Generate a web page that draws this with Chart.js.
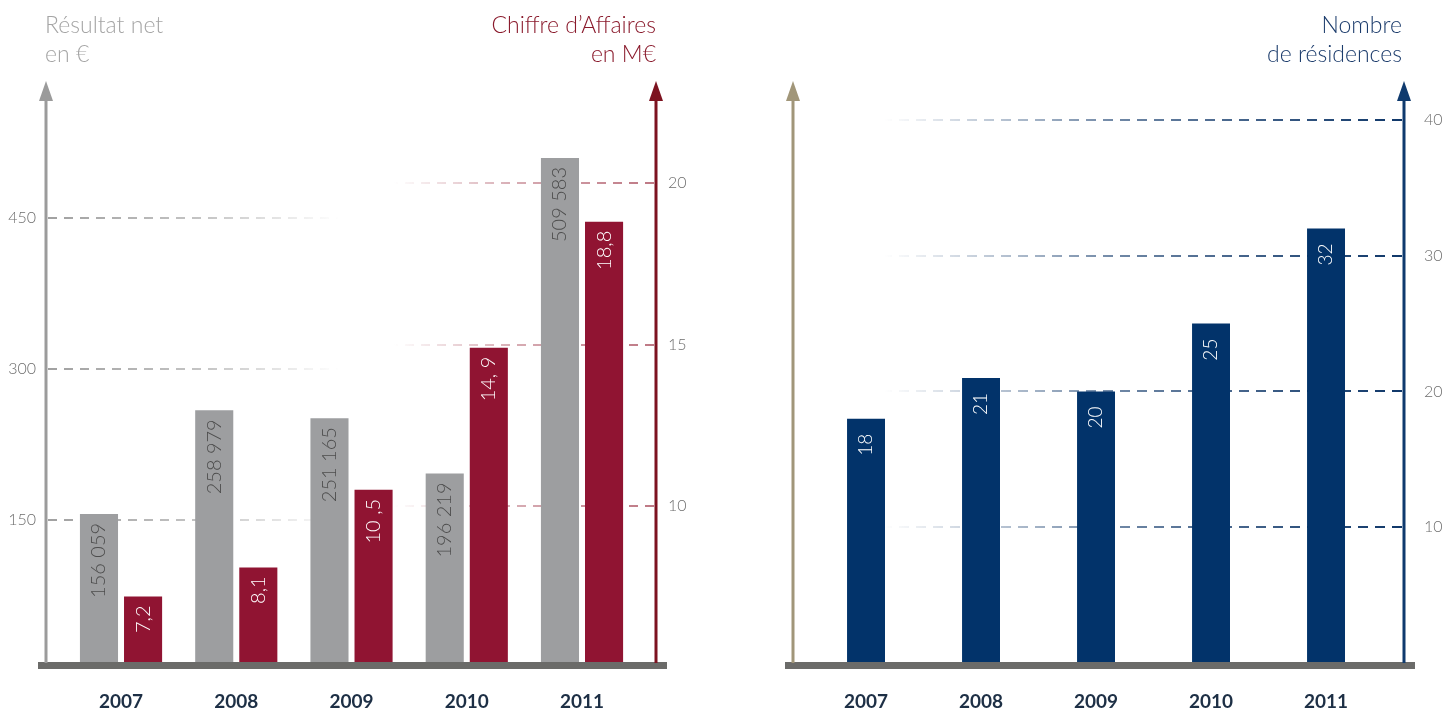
<!DOCTYPE html>
<html lang="fr">
<head>
<meta charset="utf-8">
<script src="https://cdn.jsdelivr.net/npm/chart.js@4.4.0/dist/chart.umd.min.js"></script>
<style>
  html, body { margin: 0; padding: 0; background: #fff; }
  body { width: 1443px; height: 711px; position: relative; overflow: hidden; font-family: Lato, "Open Sans", sans-serif; }
  #gauche { position: absolute; left: 0; top: 0; width: 720px; height: 711px; }
  #droite { position: absolute; left: 720px; top: 0; width: 723px; height: 711px; }
  .titre { position: absolute; top: 10px; font-weight: 300; font-size: 23px; line-height: 29px; white-space: nowrap; }
</style>
</head>
<body>
<div id="gauche"><canvas id="chartCA"></canvas></div>
<div id="droite"><canvas id="chartRes"></canvas></div>
<div class="titre" style="left:45px; color:#a5a5a5;">Résultat net<br>en €</div>
<div class="titre" style="right:787px; text-align:right; color:#8a1a2c;">Chiffre d’Affaires<br>en M€</div>
<div class="titre" style="right:41px; text-align:right; color:#1c3c6c;">Nombre<br>de résidences</div>
<script>
// données
const annees = ["2007", "2008", "2009", "2010", "2011"];
const resultatNet = [156059, 258979, 251165, 196219, 509583]; // en €
const chiffreAffaires = [7.2, 8.1, 10.5, 14.9, 18.8]; // en M€
const etiquettesCA = ["7,2", "8,1", "10 ,5", "14, 9", "18,8"];
const residences = [18, 21, 20, 25, 32];
const ticksResultat = [150000, 300000, 450000];
const ticksCA = [10, 15, 20];
const ticksResidences = [10, 20, 30, 40];

const police = "Lato, 'Open Sans', sans-serif";

// milliers avec espace : 156059 -> "156 059"
function milliers(v) {
  return String(v).replace(/\B(?=(\d{3})+(?!\d))/g, " ");
}

// plugin maison : grilles en pointillés qui s'effacent, axes fléchés, socle, étiquettes
const decor = {
  id: "decor",
  beforeDatasetsDraw(chart, args, opts) {
    const ctx = chart.ctx;
    const a = chart.chartArea;
    opts.grilles.forEach(g => {
      const scale = chart.scales[g.scale];
      const xAxe = g.cote === "gauche" ? a.left + 2 : a.right - 2;
      const xFin = g.cote === "gauche" ? a.left + g.portee * a.width : a.right - g.portee * a.width;
      const grad = ctx.createLinearGradient(xAxe, 0, xFin, 0);
      grad.addColorStop(0, "rgba(" + g.rgb + ",1)");
      grad.addColorStop(0.55, "rgba(" + g.rgb + ",0.6)");
      grad.addColorStop(1, "rgba(" + g.rgb + ",0)");
      ctx.save();
      ctx.strokeStyle = grad;
      ctx.lineWidth = 2;
      ctx.setLineDash(g.tirets);
      scale.ticks.forEach(t => {
        const y = Math.round(scale.getPixelForValue(t.value));
        ctx.beginPath();
        ctx.moveTo(xAxe, y);
        ctx.lineTo(xFin, y);
        ctx.stroke();
      });
      ctx.restore();
    });
  },
  afterDatasetsDraw(chart, args, opts) {
    const ctx = chart.ctx;
    const a = chart.chartArea;
    // valeurs écrites à la verticale dans les barres
    chart.data.datasets.forEach((ds, i) => {
      const meta = chart.getDatasetMeta(i);
      meta.data.forEach((barre, j) => {
        ctx.save();
        ctx.translate(barre.x, barre.y + opts.decalage);
        ctx.rotate(-Math.PI / 2);
        ctx.textAlign = "right";
        ctx.textBaseline = "middle";
        ctx.font = "300 " + opts.taille + "px " + police;
        ctx.fillStyle = ds.couleurTexte;
        ctx.fillText(ds.etiquettes[j], 0, 0);
        ctx.restore();
      });
    });
    // socle gris
    ctx.save();
    ctx.fillStyle = "#6b6b69";
    ctx.fillRect(a.left - 8, a.bottom - 1, a.width + 19, 7);
    // axes avec flèche
    opts.axes.forEach(ax => {
      const x = ax.cote === "gauche" ? a.left : a.right;
      ctx.fillStyle = ax.couleur;
      ctx.fillRect(x - 1.5, a.top, 3, a.bottom - a.top);
      ctx.beginPath();
      ctx.moveTo(x - 7, a.top + 1);
      ctx.lineTo(x + 7, a.top + 1);
      ctx.lineTo(x, a.top - 19);
      ctx.closePath();
      ctx.fill();
    });
    ctx.restore();
  }
};

function axeX(min, max) {
  return {
    type: "linear",
    min: min,
    max: max,
    offset: false,
    afterBuildTicks: s => { s.ticks = annees.map((_, i) => ({ value: i })); },
    afterFit: s => { s.height = 48; },
    grid: { display: false, drawTicks: false },
    border: { display: false },
    ticks: {
      padding: 27,
      maxRotation: 0,
      color: "#1d2f45",
      font: { family: police, size: 19, weight: "bold" },
      callback: v => annees[v]
    }
  };
}

const policeTicks = { family: police, size: 16, weight: 300 };

new Chart(document.getElementById("chartCA"), {
  type: "bar",
  data: {
    datasets: [
      {
        label: "Résultat net en €",
        data: resultatNet.map((v, i) => ({ x: i, y: v })),
        etiquettes: resultatNet.map(milliers),
        couleurTexte: "#4d4d4d",
        yAxisID: "yNet",
        backgroundColor: "#9d9ea0",
        categoryPercentage: 0.765,
        barPercentage: 0.864
      },
      {
        label: "Chiffre d'Affaires en M€",
        data: chiffreAffaires.map((v, i) => ({ x: i, y: v })),
        etiquettes: etiquettesCA,
        couleurTexte: "#ffffff",
        yAxisID: "yCA",
        backgroundColor: "#901432",
        categoryPercentage: 0.765,
        barPercentage: 0.864
      }
    ]
  },
  options: {
    responsive: true,
    maintainAspectRatio: false,
    animation: false,
    layout: { padding: { top: 100, left: 0, right: 0, bottom: 0 } },
    plugins: {
      legend: { display: false },
      tooltip: { enabled: false },
      decor: {
        decalage: 9,
        taille: 20,
        grilles: [
          { scale: "yNet", cote: "gauche", portee: 0.48, rgb: "160,160,160", tirets: [9, 7] },
          { scale: "yCA", cote: "droite", portee: 0.43, rgb: "190,120,132", tirets: [9, 7] }
        ],
        axes: [
          { cote: "gauche", couleur: "#9b9b9b" },
          { cote: "droite", couleur: "#7d1320" }
        ]
      }
    },
    scales: {
      x: axeX(-0.651, 4.642),
      yNet: {
        position: "left",
        min: 7950,
        max: 567200,
        afterBuildTicks: s => { s.ticks = ticksResultat.map(v => ({ value: v })); },
        afterFit: s => { s.width = 46; },
        grid: { display: false, drawTicks: false },
        border: { display: false },
        ticks: { padding: 10, color: "#6e6e6e", font: policeTicks, callback: v => v / 1000 }
      },
      yCA: {
        position: "right",
        min: 5.14,
        max: 22.57,
        afterBuildTicks: s => { s.ticks = ticksCA.map(v => ({ value: v })); },
        afterFit: s => { s.width = 64; },
        grid: { display: false, drawTicks: false },
        border: { display: false },
        ticks: { padding: 12, color: "#6e6e6e", font: policeTicks }
      }
    }
  },
  plugins: [decor]
});

new Chart(document.getElementById("chartRes"), {
  type: "bar",
  data: {
    datasets: [
      {
        label: "Nombre de résidences",
        data: residences.map((v, i) => ({ x: i, y: v })),
        etiquettes: residences.map(String),
        couleurTexte: "#ffffff",
        yAxisID: "yRes",
        backgroundColor: "#02336a",
        categoryPercentage: 1,
        barPercentage: 0.33
      }
    ]
  },
  options: {
    responsive: true,
    maintainAspectRatio: false,
    animation: false,
    layout: { padding: { top: 100, left: 73, right: 0, bottom: 0 } },
    plugins: {
      legend: { display: false },
      tooltip: { enabled: false },
      decor: {
        decalage: 15,
        taille: 19,
        grilles: [
          { scale: "yRes", cote: "droite", portee: 0.85, rgb: "15,55,105", tirets: [10, 7] }
        ],
        axes: [
          { cote: "gauche", couleur: "#a19679" },
          { cote: "droite", couleur: "#0f3a6e" }
        ]
      }
    },
    scales: {
      x: axeX(-0.635, 4.678),
      yRes: {
        position: "right",
        min: 0,
        max: 41.47,
        afterBuildTicks: s => { s.ticks = ticksResidences.map(v => ({ value: v })); },
        afterFit: s => { s.width = 39; },
        grid: { display: false, drawTicks: false },
        border: { display: false },
        ticks: { padding: 20, color: "#6e6e6e", font: policeTicks }
      }
    }
  },
  plugins: [decor]
});
</script>
</body>
</html>
